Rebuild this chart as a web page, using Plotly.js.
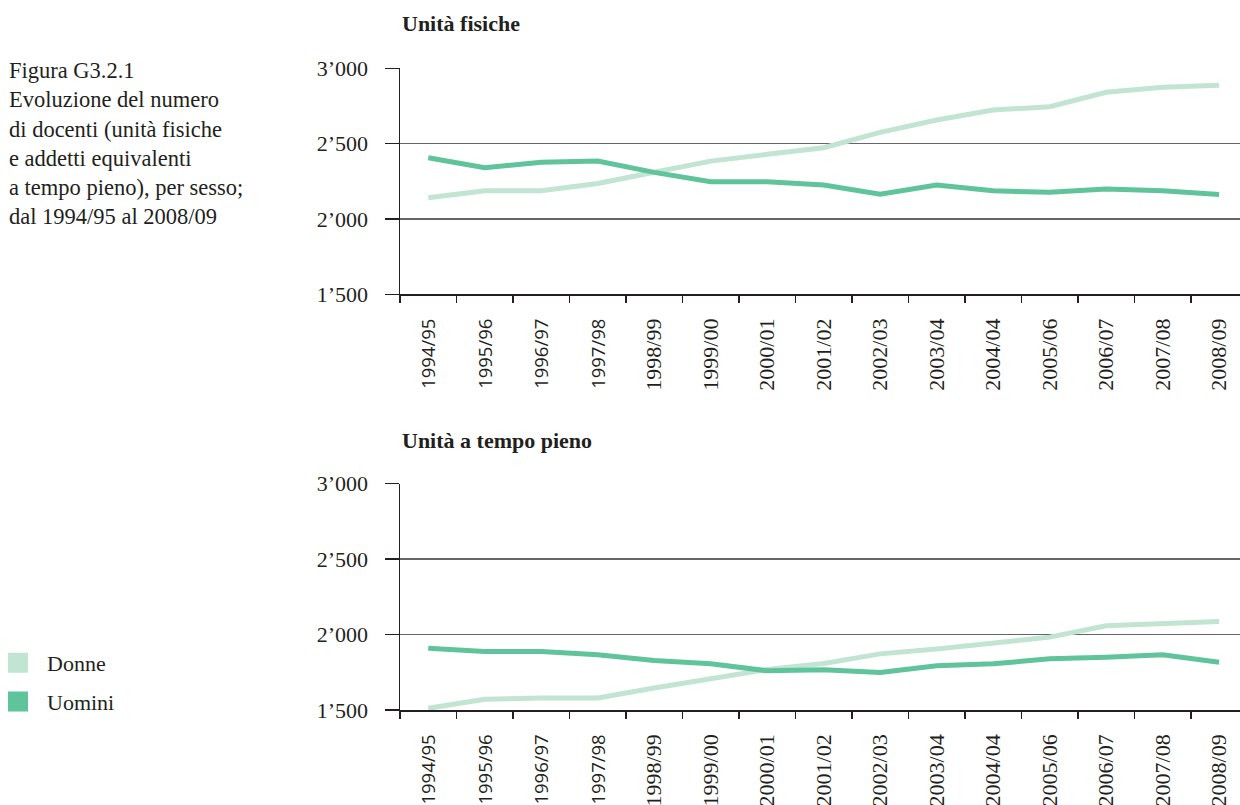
<!DOCTYPE html>
<html>
<head>
<meta charset="utf-8">
<script src="https://cdn.plot.ly/plotly-3.0.1.min.js"></script>
<style>html,body{margin:0;padding:0;background:#fff;overflow:hidden}</style>
</head>
<body>
<div id="chart" style="width:1240px;height:805px"></div>
<script>
const years = ["1994/95","1995/96","1996/97","1997/98","1998/99","1999/00","2000/01","2001/02","2002/03","2003/04","2004/04","2005/06","2006/07","2007/08","2008/09"];
const donneFisiche = [2141,2187,2187,2236,2310,2384,2429,2473,2575,2657,2723,2745,2841,2874,2887];
const uominiFisiche = [2406,2340,2376,2384,2309,2247,2247,2225,2165,2225,2187,2177,2199,2187,2163];
const donneTempoPieno = [1511,1571,1580,1580,1646,1706,1768,1808,1872,1905,1940,1983,2058,2069,2087];
const uominiTempoPieno = [1910,1888,1888,1866,1828,1806,1760,1766,1748,1794,1806,1839,1850,1866,1817];
const yTickVals = [1500,2000,2500,3000];
const yTickText = ["1’500","2’000","2’500","3’000"];
const seriesNames = ["Donne","Uomini"];
const panelTitles = ["Unità fisiche","Unità a tempo pieno"];
const figureCaption = "Figura G3.2.1<br>Evoluzione del numero<br>di docenti (unità fisiche<br>e addetti equivalenti<br>a tempo pieno), per sesso;<br>dal 1994/95 al 2008/09";

const cLight = "#c2e4d3";
const cDark = "#5fc39b";
const serif = "Liberation Serif, Times New Roman, serif";
const sans = "Open Sans, Liberation Sans, sans-serif";
const txt = "#231f20";
const sansLabelCount = 4;

const xTickText = years.map((y, i) => i < sansLabelCount
  ? '<span style="font-family:' + sans + ';font-size:18.5px">' + y + '</span>' : y);

function line(x, y, color, xa, ya) {
  return {type:"scatter", mode:"lines", x:x, y:y, xaxis:xa, yaxis:ya,
    line:{color:color, width:5, shape:"linear"}, showlegend:false, hoverinfo:"skip"};
}

const traces = [
  line(years, donneFisiche, cLight, "x", "y"),
  line(years, uominiFisiche, cDark, "x", "y"),
  line(years, donneTempoPieno, cLight, "x2", "y2"),
  line(years, uominiTempoPieno, cDark, "x2", "y2"),
  {type:"scatter", mode:"markers", x:[null], y:[null], name:seriesNames[0], legendgroup:"a",
   marker:{symbol:"square", size:16, color:cLight, line:{color:cLight, width:4}}, xaxis:"x", yaxis:"y"},
  {type:"scatter", mode:"markers", x:[null], y:[null], name:seriesNames[1], legendgroup:"b",
   marker:{symbol:"square", size:16, color:cDark, line:{color:cDark, width:4}}, xaxis:"x", yaxis:"y"}
];

function xAxis(anchor) {
  return {domain:[400/1240, 1], anchor:anchor, type:"category", range:[-0.5, 14.37],
    tickvals:years, ticktext:xTickText, automargin:false,
    showline:true, linecolor:"#231f20", linewidth:1.5, showgrid:false, zeroline:false,
    ticks:"outside", tickson:"boundaries", ticklen:7, tickcolor:"#231f20", tickwidth:1.5,
    tickangle:-90, tickfont:{family:serif, size:22, color:txt}, ticklabelstandoff:14, fixedrange:true};
}
function yAxis(anchor, d0, d1) {
  return {domain:[1 - d1/805, 1 - d0/805], anchor:anchor, range:[1500,3000],
    tickvals:yTickVals, ticktext:yTickText, automargin:false,
    showline:true, linecolor:"#231f20", linewidth:1.5, showgrid:true, gridcolor:"#666", gridwidth:1.5,
    zeroline:false, ticks:"outside", ticklen:14, tickcolor:"#231f20", tickwidth:1.5,
    tickfont:{family:serif, size:22, color:txt}, ticklabelstandoff:12, fixedrange:true};
}

const layout = {
  width:1240, height:805,
  margin:{l:0, r:0, t:0, b:0, pad:0, autoexpand:false},
  paper_bgcolor:"#fff", plot_bgcolor:"#fff",
  font:{family:serif, color:txt, size:22},
  xaxis:xAxis("y"), yaxis:yAxis("x", 68.3, 294.3),
  xaxis2:xAxis("y2"), yaxis2:yAxis("x2", 483.7, 710),
  showlegend:true,
  legend:{x:-11/1240, xanchor:"left", y:1-642/805, yanchor:"top", bgcolor:"rgba(0,0,0,0)",
    itemwidth:48,
    font:{family:serif, size:22, color:txt}, traceorder:"grouped", tracegroupgap:7, itemclick:false, itemdoubleclick:false},
  annotations:[
    {text:"<b>"+panelTitles[0]+"</b>", xref:"paper", yref:"paper", x:400/1240, y:1-23/805,
     xanchor:"left", yanchor:"middle", showarrow:false, font:{family:serif, size:22, color:txt}},
    {text:"<b>"+panelTitles[1]+"</b>", xref:"paper", yref:"paper", x:400/1240, y:1-440/805,
     xanchor:"left", yanchor:"middle", showarrow:false, font:{family:serif, size:22, color:txt}},
    {text:figureCaption, xref:"paper", yref:"paper", x:7/1240, y:1-56/805,
     xanchor:"left", yanchor:"top", align:"left", showarrow:false, font:{family:serif, size:22.5, color:txt}}
  ]
};

Plotly.newPlot("chart", traces, layout, {displayModeBar:false, staticPlot:true});
</script>
</body>
</html>
